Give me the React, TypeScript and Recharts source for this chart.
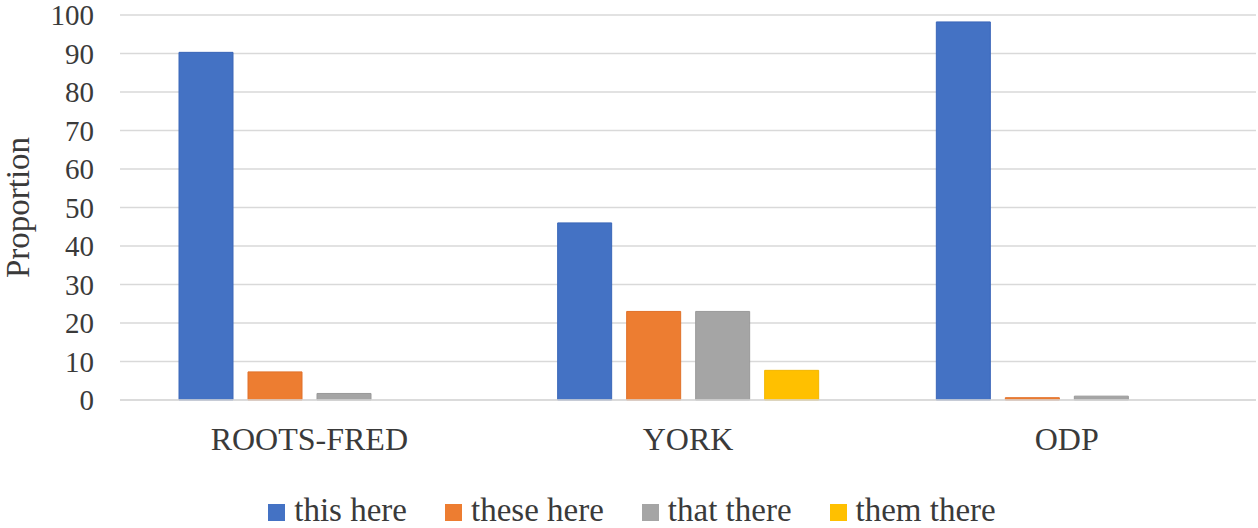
import {
  BarChart,
  Bar,
  XAxis,
  YAxis,
  CartesianGrid,
  Legend,
} from 'recharts';

const categories = ['ROOTS-FRED', 'YORK', 'ODP'];
const thisHere = [90.3, 46, 98.2];
const theseHere = [7.3, 23, 0.6];
const thatThere = [1.7, 23, 1];
const themThere = [0, 7.7, 0];
const yTicks = [0, 10, 20, 30, 40, 50, 60, 70, 80, 90, 100];

const seriesNames = ['this here', 'these here', 'that there', 'them there'];
const colors = ['#4472C4', '#ED7D31', '#A5A5A5', '#FFC000'];
const edges = ['#3A66B8', '#E0712A', '#999999', '#F2B600'];

const data = categories.map((c, i) => ({
  name: c,
  s0: thisHere[i],
  s1: theseHere[i],
  s2: thatThere[i],
  s3: themThere[i],
}));

const FONT = '"Liberation Serif", "Times New Roman", serif';
const TEXT = '#3a3a3a';

function LegendBox() {
  return (
    <div
      style={{
        display: 'flex',
        justifyContent: 'center',
        alignItems: 'center',
        height: 36,
        paddingLeft: 6,
        fontFamily: FONT,
        fontSize: 33,
        color: TEXT,
      }}
    >
      {seriesNames.map((n, i) => (
        <div
          key={n}
          style={{
            display: 'flex',
            alignItems: 'center',
            marginRight: i < seriesNames.length - 1 ? 38 : 0,
          }}
        >
          <span
            style={{
              width: 17,
              height: 17,
              background: colors[i],
              display: 'inline-block',
              marginRight: 9,
              marginTop: 4,
            }}
          />
          <span style={{ lineHeight: '36px', whiteSpace: 'nowrap' }}>{n}</span>
        </div>
      ))}
    </div>
  );
}

function YLabel({ viewBox }: any) {
  const cy = viewBox.y + viewBox.height / 2;
  return (
    <text
      x={18}
      y={cy}
      transform={`rotate(-90, 18, ${cy})`}
      textAnchor="middle"
      dominantBaseline="central"
      fill={TEXT}
      style={{ fontFamily: FONT, fontSize: 33 }}
    >
      Proportion
    </text>
  );
}

export default function App() {
  return (
    <div style={{ position: 'absolute', left: 0, top: 0, background: '#fff' }}>
      <BarChart
        width={1258}
        height={528}
        data={data}
        margin={{ top: 15, right: 2, left: 2, bottom: 0 }}
        barGap={15}
        barCategoryGap={59}
      >
        <CartesianGrid vertical={false} stroke="#D9D9D9" strokeWidth={1.4} />
        <XAxis
          dataKey="name"
          height={92}
          tickLine={false}
          tickSize={0}
          tickMargin={27}
          axisLine={{ stroke: '#D9D9D9', strokeWidth: 1.4 }}
          tick={{ fill: TEXT, fontFamily: FONT, fontSize: 32 }}
        />
        <YAxis
          width={118}
          domain={[0, 100]}
          ticks={yTicks}
          interval={0}
          axisLine={false}
          tickLine={false}
          tickSize={0}
          tickMargin={26}
          tick={{ fill: TEXT, fontFamily: FONT, fontSize: 29 }}
          label={<YLabel />}
        />
        <Legend verticalAlign="bottom" content={<LegendBox />} wrapperStyle={{ bottom: 0 }} />
        {seriesNames.map((n, i) => (
          <Bar
            key={n}
            dataKey={`s${i}`}
            name={n}
            fill={colors[i]}
            stroke={edges[i]}
            strokeWidth={1}
            isAnimationActive={false}
          />
        ))}
      </BarChart>
    </div>
  );
}
